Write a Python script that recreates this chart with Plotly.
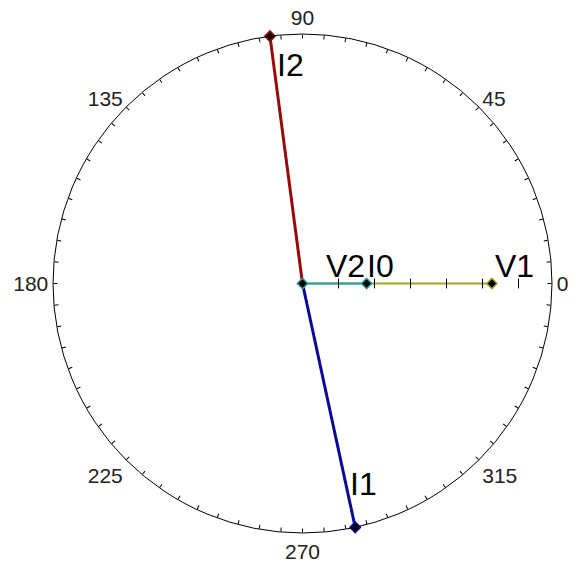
import math
import plotly.graph_objects as go

# Phasor quantities: magnitude (radial units) and angle (degrees)
names = ["V1", "I0", "V2", "I1", "I2"]
magnitudes = [5.26, 1.78, 0.0, 6.93, 6.93]
angles = [0.0, 0.0, 0.0, 282.2, 97.5]
colors = ["#a3a31e", "#2e9ea6", "#2e9ea6", "#0a0a96", "#960a0a"]
widths = [2, 2, 2, 3, 3]

# Radial scale and tick marks along the reference (0 deg) direction
r_max = 6.93
radial_ticks = [1, 2, 3, 4, 5, 6]

# Angular scale: ticks every 5 deg, labelled every 45 deg
angle_ticks = list(range(0, 360, 5))
angle_labels = [str(a) if a % 45 == 0 else "" for a in angle_ticks]

# Label offsets in pixels (x, y) relative to each phasor tip
label_shift = {"V1": (1, 18), "I0": (-2, 18), "V2": (21, 18), "I1": (-7, 43), "I2": (5, -29)}

fig = go.Figure()

# phasor shafts
for n, m, a, c, w in zip(names, magnitudes, angles, colors, widths):
    if m > 0:
        fig.add_trace(go.Scatterpolar(
            r=[0, m], theta=[0, a], mode="lines",
            line=dict(color=c, width=w), hoverinfo="skip", showlegend=False))

# radial tick marks
fig.add_trace(go.Scatterpolar(
    r=radial_ticks, theta=[0] * len(radial_ticks), mode="markers",
    marker=dict(symbol="line-ns", size=7, line=dict(color="black", width=1)),
    hoverinfo="skip", showlegend=False))

# phasor tips
for n, m, a, c in zip(names, magnitudes, angles, colors):
    fig.add_trace(go.Scatterpolar(
        r=[m], theta=[a], mode="markers",
        marker=dict(symbol="diamond", size=8, color="black", line=dict(color=c, width=1.5)),
        name=n, showlegend=False))

# phasor names placed next to the tips
for n, m, a in zip(names, magnitudes, angles):
    f = m / r_max
    x = 0.5 + 0.5 * f * math.cos(math.radians(a))
    y = 0.5 + 0.5 * f * math.sin(math.radians(a))
    dx, dy = label_shift[n]
    fig.add_annotation(
        x=x, y=y, xref="paper", yref="paper", text=n, showarrow=False,
        xanchor="left", yanchor="middle", xshift=dx, yshift=dy,
        font=dict(family="Liberation Sans, Arial, sans-serif", size=32, color="black"))

fig.update_layout(
    width=572, height=562,
    margin=dict(l=53, r=20, t=34, b=29),
    paper_bgcolor="white", plot_bgcolor="white",
    polar=dict(
        domain=dict(x=[0, 1], y=[0, 1]),
        bgcolor="white",
        radialaxis=dict(visible=False, range=[0, r_max]),
        angularaxis=dict(
            rotation=0, direction="counterclockwise",
            tickmode="array", tickvals=angle_ticks, ticktext=angle_labels,
            ticks="inside", ticklen=4, tickcolor="black", tickwidth=1,
            showline=True, linecolor="black", linewidth=1, showgrid=False,
            tickfont=dict(family="Liberation Sans, Arial, sans-serif", size=21, color="#222222"),
        ),
    ),
)

fig.write_html("out.html")
